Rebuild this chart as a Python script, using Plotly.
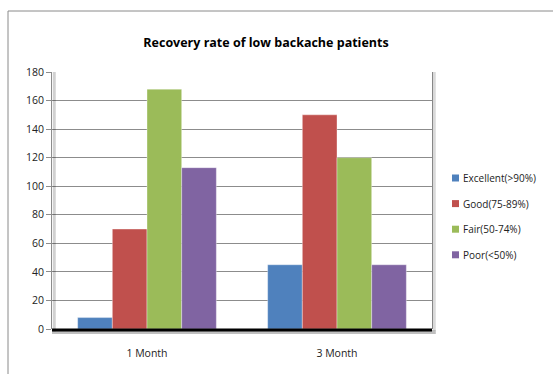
import plotly.graph_objects as go

# Patient counts per recovery band at each follow-up
periods = ["1 Month", "3 Month"]
excellent = [8, 45]
good = [70, 150]
fair = [168, 120]
poor = [113, 45]

series_names = ["Excellent(>90%)", "Good(75-89%)", "Fair(50-74%)", "Poor(<50%)"]
series_values = [excellent, good, fair, poor]
series_colors = ["#4F81BD", "#C0504D", "#9BBB59", "#8064A2"]
y_ticks = [0, 20, 40, 60, 80, 100, 120, 140, 160, 180]

FONT = "Open Sans"

fig = go.Figure()
for name, vals, col in zip(series_names, series_values, series_colors):
    fig.add_trace(go.Bar(
        x=periods, y=vals, name=name, showlegend=False,
        marker=dict(color=col, line=dict(color="rgba(255,255,255,0.6)", width=0.6)),
    ))

L, R, T, B = 52, 121, 72, 45
W, H = 553, 374
pw, ph = W - L - R, H - T - B


def px_x(x):
    return (x - L) / pw


def px_y(y):
    return (T + ph - y) / ph


shapes = [
    # outer chart frame (partly beyond the page edge)
    dict(type="rect", xref="paper", yref="paper",
         x0=px_x(8), x1=px_x(W + 20), y0=px_y(H + 20), y1=px_y(11),
         line=dict(color="#8a8a8a", width=1), layer="below"),
    # soft shadow along the right plot edge
    dict(type="line", xref="paper", yref="paper", x0=1.006, x1=1.006, y0=-0.005, y1=1,
         line=dict(color="rgba(0,0,0,0.15)", width=3)),
    # heavy base line with shadow
    dict(type="line", xref="paper", yref="paper", x0=0, x1=1.01, y0=-0.012, y1=-0.012,
         line=dict(color="rgba(0,0,0,0.25)", width=4)),
    dict(type="line", xref="paper", yref="paper", x0=0, x1=1.0, y0=-0.004, y1=-0.004,
         line=dict(color="#000000", width=3)),
    # shadow along the value axis
    dict(type="line", xref="paper", yref="paper", x0=0.006, x1=0.006, y0=-0.01, y1=1,
         line=dict(color="rgba(0,0,0,0.18)", width=3)),
]

# legend: small colour squares with labels
annotations = []
for i, (name, col) in enumerate(zip(series_names, series_colors)):
    cy = 178 + i * 25.6
    shapes.append(dict(type="rect", xref="paper", yref="paper",
                       x0=px_x(452), x1=px_x(459), y0=px_y(cy + 3.5), y1=px_y(cy - 3.5),
                       fillcolor=col, line=dict(width=0)))
    annotations.append(dict(text=name, xref="paper", yref="paper",
                            x=px_x(461), y=px_y(cy), xanchor="left", yanchor="middle",
                            showarrow=False,
                            font=dict(family=FONT, size=10, color="#222222")))

fig.update_layout(
    width=W, height=H,
    margin=dict(l=L, r=R, t=T, b=B),
    paper_bgcolor="white", plot_bgcolor="white",
    barmode="group", bargap=0.27, bargroupgap=0,
    title=dict(text="<b>Recovery rate of low backache patients</b>",
               x=266 / W, xanchor="center", y=1 - 43 / H, yanchor="middle",
               font=dict(family=FONT, size=12.5, color="#000000")),
    font=dict(family=FONT, size=10, color="#222222"),
    showlegend=False,
    xaxis=dict(showgrid=False, showline=False, ticks="", tickfont=dict(size=10.5),
               ticklabelstandoff=16),
    yaxis=dict(range=[0, 180], tickvals=y_ticks, showgrid=True,
               gridcolor="#8c8c8c", gridwidth=1, zeroline=False,
               showline=True, linecolor="#8c8c8c", linewidth=1, mirror=True,
               ticks="outside", ticklen=5, tickcolor="#8c8c8c",
               tickfont=dict(size=10.5)),
    shapes=shapes,
    annotations=annotations,
)

fig.write_html("out.html")
